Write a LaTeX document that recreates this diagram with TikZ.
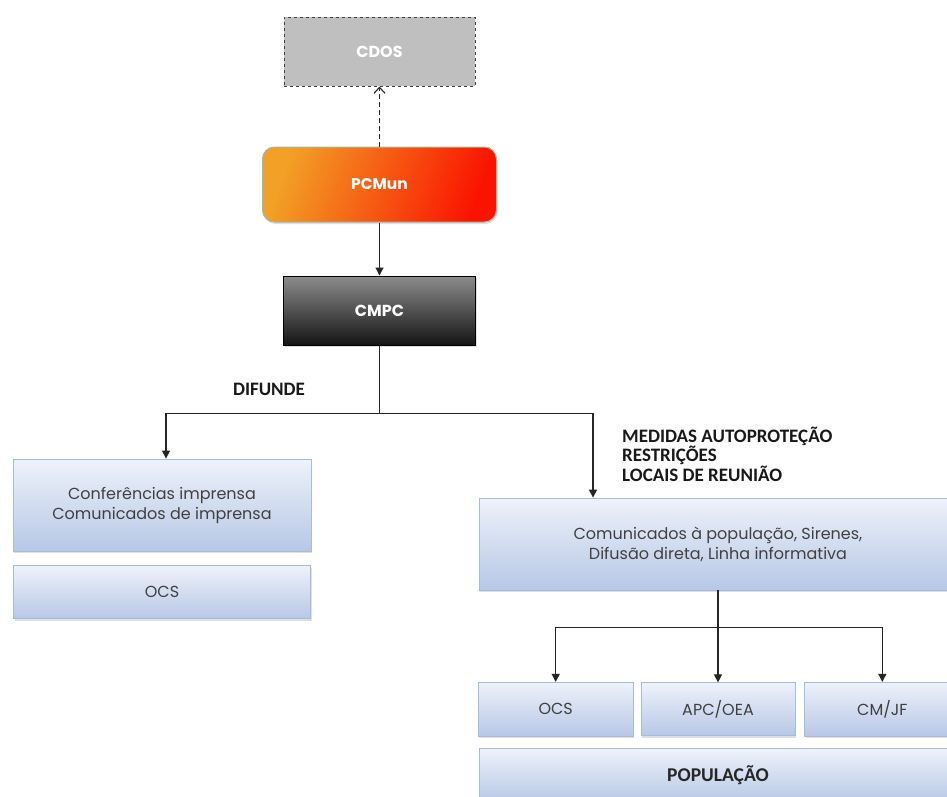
\documentclass[tikz,border=0pt]{standalone}
\usepackage{fontspec}
\setmainfont{Poppins}
\newfontfamily\tagfont{Carlito}
\usetikzlibrary{arrows.meta,positioning,calc,shadows}
\definecolor{boxtop}{HTML}{EEF2FA}
\definecolor{boxbot}{HTML}{B7C7E6}
\definecolor{boxline}{HTML}{A6BBE0}
\definecolor{boxtext}{HTML}{404040}
\definecolor{pcyellow}{HTML}{F2A126}
\definecolor{pcred}{HTML}{FA1400}

\begin{document}
\begin{tikzpicture}[
  x=1pt, y=1pt,
  every node/.style={font=\fontsize{16}{20}\selectfont},
  box/.style={draw, inner sep=0pt, align=center,
              drop shadow={shadow xshift=1pt, shadow yshift=-2pt, opacity=0.25}},
  bluebox/.style={box, top color=boxtop, bottom color=boxbot, draw=boxline,
                  line width=0.8pt, text=boxtext},
  cdosbox/.style={draw=black!75, dashed, fill=black!25, line width=1pt, text=white,
                  minimum width=191pt, minimum height=69pt, font=\bfseries\fontsize{16}{19}\selectfont},
  pcbox/.style={box, rounded corners=12pt, left color=pcyellow, right color=pcred,
                shading angle=70,
                draw=black!25!green!20!gray!60, line width=1pt, text=white,
                minimum width=234pt, minimum height=75pt, font=\bfseries\fontsize{15.5}{19}\selectfont},
  cmbox/.style={box, top color=black!45, bottom color=black!92, draw=black,
                line width=1.2pt, text=white,
                minimum width=192pt, minimum height=69pt, font=\bfseries\fontsize{16}{19}\selectfont},
  tag/.style={font=\tagfont\bfseries\fontsize{19}{19.5}\selectfont, inner sep=0pt, text=black!90},
  arr/.style={-{Triangle[length=8pt,width=8pt]}, line width=1.1pt, color=black!85},
]
\useasboundingbox (0,0) rectangle (947,-796);

%% Top column
\node[cdosbox] (cdos) at (379.5,-51.5) {CDOS};
\node[pcbox, below=60pt of cdos] (pcmun) {PCMun};
\node[cmbox, below=53pt of pcmun] (cmpc) {CMPC};

%% Left branch
\node[bluebox, minimum width=298pt, minimum height=92pt] (conf) at (162,-505)
  {Conferências imprensa\\Comunicados de imprensa};
\node[bluebox, minimum width=297pt, minimum height=53pt, below=14pt of conf] (ocsL) {OCS};

%% Right branch
\node[bluebox, minimum width=478pt, minimum height=92pt] (com) at (718,-544)
  {Comunicados à população, Sirenes,\\Difusão direta, Linha informativa};
\node[bluebox, minimum width=154pt, minimum height=53pt, below=92pt of com] (apc) {APC/OEA};
\node[bluebox, minimum width=155pt, minimum height=54pt, left=7pt of apc] (ocsR) {OCS};
\node[bluebox, minimum width=155pt, minimum height=54pt, right=9pt of apc] (cmjf) {CM/JF};
\node[bluebox, minimum width=478pt, minimum height=54pt, below=12pt of apc,
      font=\tagfont\bfseries\fontsize{19.5}{20}\selectfont, text=black!85] (pop) {POPULAÇÃO};

%% Labels
\node[tag] (difunde) at (269,-389) {DIFUNDE};
\node[tag, anchor=west, align=left] (medidas) at (622,-454)
  {MEDIDAS AUTOPROTEÇÃO\\RESTRIÇÕES\\LOCAIS DE REUNIÃO};

%% Arrows
\coordinate (split) at ([yshift=-68pt]cmpc.south);
\coordinate (fork) at ([yshift=-37pt]com.south);
\draw[arr, dash pattern=on 5pt off 3pt, -{Straight Barb[length=6pt,width=11pt]}] (pcmun) -- (cdos);
\draw[arr] (pcmun) -- (cmpc);
\draw[line width=1.1pt, color=black!85] (cmpc) -- (split);
\draw[arr] (split) -| ([xshift=4pt]conf.north);
\draw[arr] (split) -| ([xshift=-125pt]com.north);
\draw[arr] (com) -- (apc);
\draw[arr] (fork) -| (ocsR);
\draw[arr] (fork) -| (cmjf);

\end{tikzpicture}
\end{document}
